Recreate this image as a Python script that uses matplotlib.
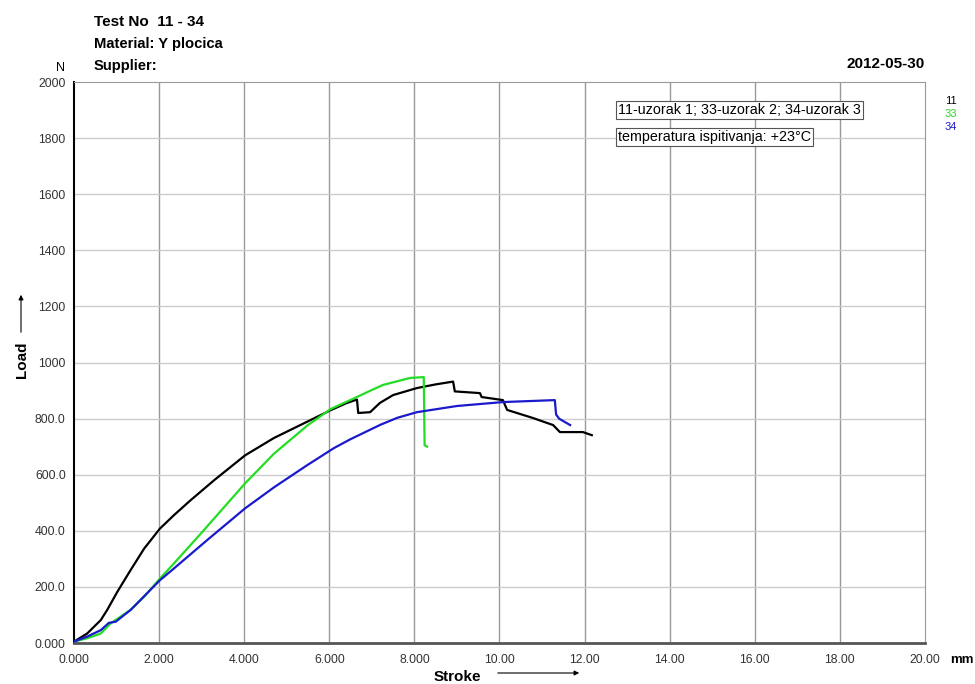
import matplotlib
matplotlib.use('Agg')
import matplotlib.pyplot as plt

plt.rcParams['font.family'] = ['Liberation Sans', 'DejaVu Sans']

# uzorak 1 (11)
x11 = [0, 0.31, 0.63, 0.78, 1.02, 1.33, 1.65, 2.02, 2.35, 2.74, 3.29, 4.02, 4.70, 5.48,
       6.03, 6.4, 6.65, 6.68, 6.96, 7.19, 7.5, 8.06, 8.5, 8.91, 8.95, 9.54, 9.58, 10.08,
       10.18, 10.79, 11.26, 11.42, 11.96, 12.17]
y11 = [5, 34, 82, 118, 183, 260, 337, 408, 456, 509, 580, 669, 731, 789,
       830, 855, 868, 820, 823, 856, 884, 909, 922, 932, 897, 891, 877, 866,
       831, 802, 777, 752, 752, 741]
# uzorak 2 (33)
x33 = [0, 0.31, 0.63, 0.86, 1.33, 1.65, 2.02, 2.35, 2.98, 4.02, 4.70, 5.48, 6.03, 6.49,
       6.9, 7.26, 7.9, 8.22, 8.24, 8.3]
y33 = [5, 17, 34, 70, 118, 165, 230, 284, 390, 569, 675, 775, 834, 866,
       895, 920, 945, 948, 705, 700]
# uzorak 3 (34)
x34 = [0, 0.31, 0.63, 0.82, 0.98, 1.33, 2.02, 2.35, 3.13, 4.02, 4.70, 5.48, 6.11, 6.49,
       7.2, 7.6, 8.06, 9.0, 10.08, 11.3, 11.33, 11.4, 11.66]
y34 = [5, 23, 46, 72, 76, 118, 224, 266, 367, 480, 555, 634, 695, 726,
       778, 803, 823, 845, 859, 866, 815, 800, 777]

xticks = [0, 2, 4, 6, 8, 10, 12, 14, 16, 18, 20]
xlabels = ['0.000', '2.000', '4.000', '6.000', '8.000', '10.00', '12.00', '14.00',
           '16.00', '18.00', '20.00']
yticks = [0, 200, 400, 600, 800, 1000, 1200, 1400, 1600, 1800, 2000]
ylabels = ['0.000', '200.0', '400.0', '600.0', '800.0', '1000', '1200', '1400',
           '1600', '1800', '2000']

fig = plt.figure(figsize=(9.75, 6.84), dpi=100)
ax = fig.add_axes([0.0759, 0.0599, 0.8728, 0.8202])

for xv in xticks[1:-1]:
    ax.axvline(xv, color='#999999', lw=1.0, zorder=1)
for yv in yticks[1:-1]:
    ax.axhline(yv, color='#cccccc', lw=1.0, zorder=1)

ax.plot(x11, y11, color='black', lw=1.6, zorder=3)
ax.plot(x33, y33, color='#22dd22', lw=1.6, zorder=3)
ax.plot(x34, y34, color='#1a1acc', lw=1.6, zorder=4)

ax.set_xlim(0, 20)
ax.set_ylim(0, 2000)
ax.set_xticks(xticks)
ax.set_xticklabels(xlabels)
ax.set_yticks(yticks)
ax.set_yticklabels(ylabels)
ax.tick_params(length=0, labelsize=8.8, colors='#333333', pad=6)
ax.tick_params(axis='x', pad=8)
ax.spines['left'].set_color('black')
ax.spines['left'].set_linewidth(1.5)
ax.spines['bottom'].set_color('#555555')
ax.spines['bottom'].set_linewidth(2)
ax.spines['top'].set_color('#999999')
ax.spines['right'].set_color('#999999')

# header texts
fig.text(94/975, 1 - 22/684, 'Test No  11 - 34', fontsize=11, fontweight='bold', va='center')
fig.text(94/975, 1 - 44/684, 'Material: Y plocica', fontsize=10.6, fontweight='bold', va='center')
fig.text(94/975, 1 - 66/684, 'Supplier:', fontsize=10.6, fontweight='bold', va='center')
fig.text(65/975, 1 - 68/684, 'N', fontsize=9, va='center', ha='right')
fig.text(925/975, 1 - 64/684, '2012-05-30', fontsize=11, fontweight='bold', va='center', ha='right')

# note boxes
box = dict(boxstyle='square,pad=0.15', fc='white', ec='#555555', lw=0.8)
ax.text(0.6395, 0.950, '11-uzorak 1; 33-uzorak 2; 34-uzorak 3', transform=ax.transAxes,
        fontsize=10.3, va='center', bbox=box, zorder=5)
ax.text(0.6395, 0.902, 'temperatura ispitivanja: +23°C', transform=ax.transAxes,
        fontsize=10.3, va='center', bbox=box, zorder=5)

# legend ids
fig.text(945/975, 1 - 101/684, '11', fontsize=8, color='black', va='center')
fig.text(945/975, 1 - 114/684, '33', fontsize=8, color='#22dd22', va='center')
fig.text(945/975, 1 - 127/684, '34', fontsize=8, color='#1a1acc', va='center')

# axis labels
fig.text(950/975, 1 - 660/684, 'mm', fontsize=9.5, fontweight='bold', va='center')
fig.text(457/975, 1 - 677/684, 'Stroke', fontsize=11, fontweight='bold', va='center', ha='center')
fig.add_artist(matplotlib.patches.FancyArrowPatch((495/975, 1 - 673/684), (582/975, 1 - 673/684),
               transform=fig.transFigure, arrowstyle='-|>', mutation_scale=7, lw=0.8, color='black'))
fig.text(22/975, 1 - 360/684, 'Load', fontsize=11, fontweight='bold', va='center', ha='center',
         rotation=90)
fig.add_artist(matplotlib.patches.FancyArrowPatch((21/975, 1 - 335/684), (21/975, 1 - 292/684),
               transform=fig.transFigure, arrowstyle='-|>', mutation_scale=7, lw=0.8, color='black'))

fig.savefig('out.png', dpi=100)
